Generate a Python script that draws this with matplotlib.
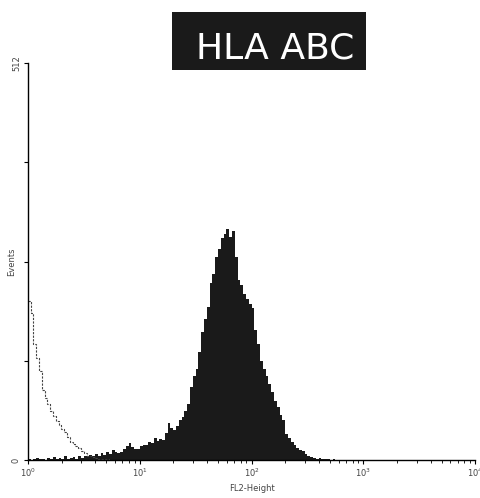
import numpy as np
import matplotlib
matplotlib.use("Agg")
import matplotlib.pyplot as plt
from matplotlib.patches import Rectangle

# HLA ABC stained sample, counts per channel (log channels, 0.025 decade wide, starting at 10^0)
hla_counts = [2, 0, 1, 3, 1, 2, 0, 3, 2, 4, 1, 3, 2, 5, 2, 3, 4, 2, 5, 3,
              6, 4, 7, 5, 8, 6, 9, 7, 10, 8, 13, 11, 9, 10, 14, 18, 22, 17, 15, 14,
              18, 20, 19, 24, 22, 28, 25, 27, 26, 35, 48, 42, 39, 44, 52, 56, 64, 72, 95, 108,
              118, 140, 165, 182, 198, 228, 240, 262, 272, 286, 292, 298, 288, 296, 262, 232, 226, 214, 208, 202,
              196, 168, 150, 128, 118, 108, 98, 88, 76, 68, 58, 52, 34, 28, 23, 19, 16, 13, 12, 8,
              6, 4, 3, 2, 3, 1, 2, 1, 0, 1]

# isotype control, same channel grid
iso_counts = [205, 190, 150, 132, 115, 90, 80, 72, 63, 57,
              50, 45, 40, 36, 30, 24, 21, 18, 16, 12,
              9, 6, 5, 4, 3, 2, 2, 1, 1, 0]

channel_width = 0.025  # decades per channel
y_ticks = [0, 128, 256, 384, 512]
y_ticklabels = ['0', '', '', '', '512']
x_ticks = [1, 10, 100, 1000, 10000]
x_ticklabels = [r'$10^0$', r'$10^1$', r'$10^2$', r'$10^3$', r'$10^4$']

fig = plt.figure(figsize=(4.81, 4.98), dpi=100)
ax = fig.add_axes([0.058, 0.076, 0.93, 0.797])

# filled histogram
edges = 10 ** (np.arange(len(hla_counts) + 1) * channel_width)
ax.stairs(hla_counts, edges, fill=True, color='#1a1a1a', baseline=0)

# dashed isotype outline
iso_edges = 10 ** (np.arange(len(iso_counts) + 1) * channel_width)
ax.stairs(iso_counts, iso_edges, color='#444444', lw=0.8,
          linestyle=(0, (2, 1.2)), baseline=None)

ax.set_xscale('log')
ax.set_xlim(1, 10000)
ax.set_ylim(0, 512)
ax.set_xticks(x_ticks)
ax.set_xticklabels(x_ticklabels, fontsize=6, color='#444444')
ax.set_yticks(y_ticks)
ax.set_yticklabels(y_ticklabels, fontsize=6, color='#444444', rotation=90, va='center')
ax.tick_params(axis='both', which='major', length=3, width=0.8, pad=2)
ax.tick_params(axis='x', which='minor', length=2, width=0.6)
for s in ['top', 'right']:
    ax.spines[s].set_visible(False)
ax.spines['left'].set_linewidth(1.0)
ax.spines['bottom'].set_linewidth(1.0)

ax.set_xlabel('FL2-Height', fontsize=6, color='#444444', labelpad=3)
ax.set_ylabel('Events', fontsize=6, color='#444444')
ax.yaxis.set_label_coords(-0.027, 0.5)

# title in a black box
fig.patches.append(Rectangle((0.3576, 0.8594), 0.4034, 0.1165, transform=fig.transFigure,
                             facecolor='#1a1a1a', edgecolor='none'))
fig.text(0.5717, 0.8835, 'HLA ABC', fontsize=26, color='white', ha='center', va='baseline',
         family='DejaVu Sans')

fig.savefig('out.png', dpi=100)
